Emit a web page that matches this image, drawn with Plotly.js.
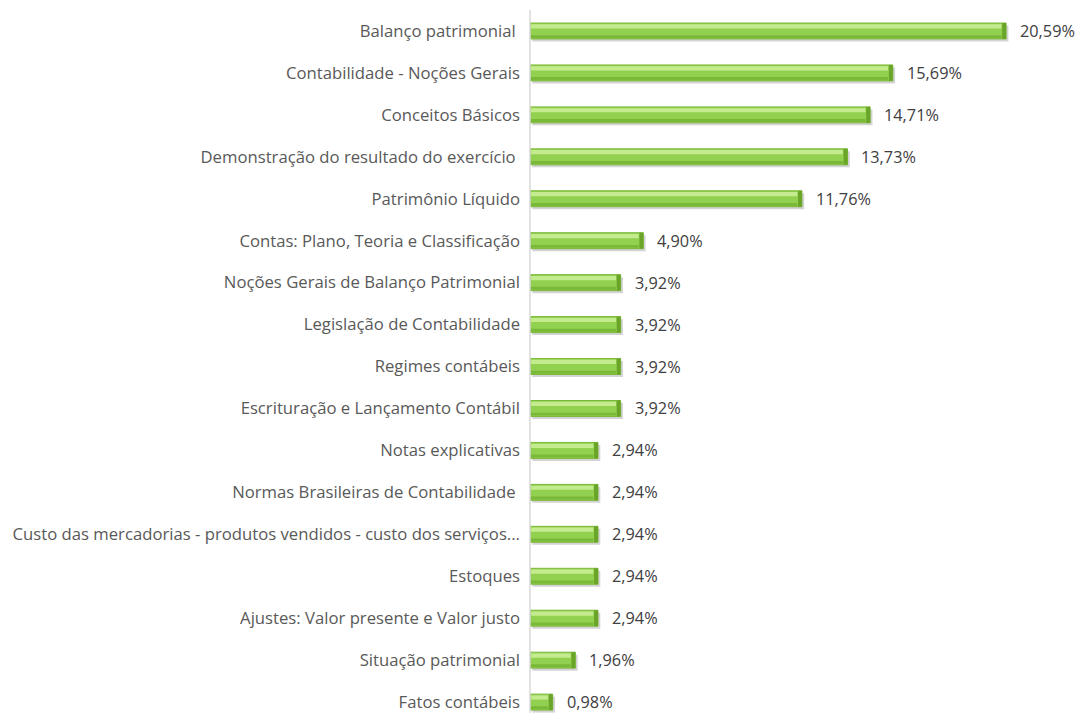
<!DOCTYPE html>
<html>
<head>
<meta charset="utf-8">
<script src="https://cdn.plot.ly/plotly-3.0.1.min.js"></script>
<style>html,body{margin:0;padding:0;background:#fff;}#chart{width:1081px;height:713px;}</style>
</head>
<body>
<div id="chart"></div>
<script>
const categories = [
  "Balanço patrimonial\u00a0",
  "Contabilidade - Noções Gerais",
  "Conceitos Básicos",
  "Demonstração do resultado do exercício\u00a0",
  "Patrimônio Líquido",
  "Contas: Plano, Teoria e Classificação",
  "Noções Gerais de Balanço Patrimonial",
  "Legislação de Contabilidade",
  "Regimes contábeis",
  "Escrituração e Lançamento Contábil",
  "Notas explicativas",
  "Normas Brasileiras de Contabilidade\u00a0",
  "Custo das mercadorias - produtos vendidos - custo dos serviços...",
  "Estoques",
  "Ajustes: Valor presente e Valor justo",
  "Situação patrimonial",
  "Fatos contábeis"
];
const percentages = [20.59, 15.69, 14.71, 13.73, 11.76, 4.90, 3.92, 3.92, 3.92, 3.92, 2.94, 2.94, 2.94, 2.94, 2.94, 1.96, 0.98];

const idx = categories.map((c, i) => i);
const font = "'Open Sans', sans-serif";

const shadow = {
  type: 'bar', orientation: 'h', y: idx, x: percentages, base: 0.1,
  width: 0.38, offset: -0.13,
  marker: {color: 'rgba(80,80,80,0.25)'}, hoverinfo: 'skip', showlegend: false
};
const main = {
  type: 'bar', orientation: 'h', y: idx, x: percentages,
  width: 0.38, offset: -0.19,
  marker: {color: '#92d050', line: {color: '#7cb83a', width: 1}},
  showlegend: false
};
const cap = {
  type: 'bar', orientation: 'h', y: idx, x: percentages.map(() => 0.17),
  base: percentages.map(v => v - 0.17),
  width: 0.38, offset: -0.19,
  marker: {color: '#6aa52a'}, hoverinfo: 'skip', showlegend: false
};
const highlight = {
  type: 'bar', orientation: 'h', y: idx, x: percentages.map(v => Math.max(v - 0.25, 0)),
  base: 0.05,
  width: 0.1, offset: -0.16,
  marker: {color: '#c4ec8e'}, hoverinfo: 'skip', showlegend: false
};
const lowband = {
  type: 'bar', orientation: 'h', y: idx, x: percentages.map(v => Math.max(v - 0.2, 0)),
  width: 0.07, offset: 0.1,
  marker: {color: '#7ab838'}, hoverinfo: 'skip', showlegend: false
};

const annotations = percentages.map((v, i) => ({
  x: v, y: i, xref: 'x', yref: 'y', xanchor: 'left', yanchor: 'middle',
  xshift: 12, showarrow: false,
  text: v.toFixed(2).replace('.', ',') + '%',
  font: {family: font, size: 16.3, color: '#404040'}
}));

const layout = {
  width: 1081, height: 713,
  margin: {l: 530, r: 0, t: 10, b: 0},
  paper_bgcolor: '#fff', plot_bgcolor: '#fff',
  barmode: 'overlay',
  xaxis: {range: [0, 23.83], visible: false, fixedrange: true},
  yaxis: {
    range: [16.26, -0.5],
    tickmode: 'array', tickvals: idx, ticktext: categories,
    showgrid: false, zeroline: false,
    showline: false, ticks: '', ticklabelstandoff: 9,
    ticklabeloverflow: 'allow',
    tickfont: {family: font, size: 16.7, color: '#595959'}
  },
  shapes: [{type: 'line', xref: 'paper', yref: 'paper', x0: 0, x1: 0, y0: 0, y1: 1,
            line: {color: '#d9d9d9', width: 1.5}}],
  annotations: annotations,
  showlegend: false
};

Plotly.newPlot('chart', [shadow, main, lowband, highlight, cap], layout, {displayModeBar: false, staticPlot: true});
</script>
</body>
</html>
